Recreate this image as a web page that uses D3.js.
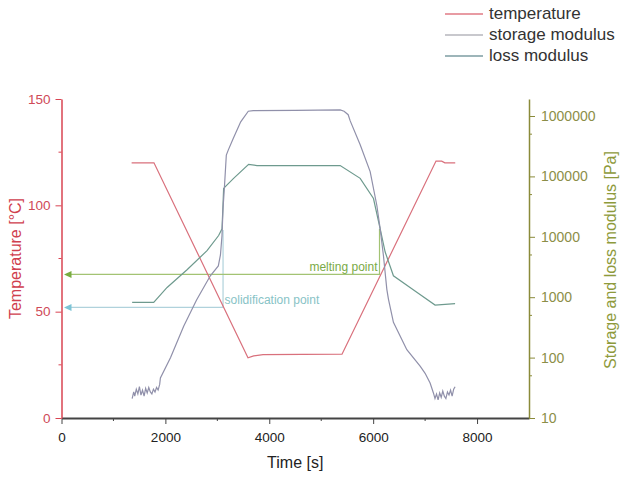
<!DOCTYPE html>
<html>
<head>
<meta charset="utf-8">
<script src="https://cdn.jsdelivr.net/npm/d3@7"></script>
<style>
body { margin: 0; background: #fff; }
svg { font-family: "Liberation Sans", Arial, sans-serif; }
</style>
</head>
<body>
<div id="chart"></div>
<script>
// Temperature, storage and loss modulus versus time
var tempTime  = [1350, 1780, 3590, 3700, 3880, 5400, 7210, 7320, 7380, 7580];
var tempValue = [120, 120, 28.3, 29.2, 29.8, 30, 120.8, 120.8, 120, 120];

var storageTime = [1360, 1390, 1410, 1440, 1470, 1500, 1530, 1560, 1590, 1620, 1650, 1680, 1710, 1740, 1770, 1800, 1830, 1860, 1890,
  1904, 2100, 2352, 2600, 2865, 3019, 3060, 3090, 3110, 3135, 3173, 3212, 3308, 3450, 3596, 3692, 4500, 5365,
  5440, 5519, 5558, 5750, 5942, 6071, 6135, 6198, 6263, 6294, 6390, 6648, 6904, 7000, 7096, 7160,
  7190, 7220, 7250, 7280, 7310, 7340, 7370, 7400, 7430, 7460, 7490, 7520, 7550, 7577];
var storageValue = [21, 27, 23, 30, 25, 33, 24, 29, 23, 31, 26, 32, 27, 25, 30, 27, 32, 29, 36,
  46, 100, 330, 900, 2265, 3290, 5000, 10500, 30000, 63000, 226000, 275000, 427000, 800000, 1200000, 1230000, 1240000, 1260000,
  1200000, 1050000, 830000, 333000, 120000, 33000, 13500, 4860, 1350, 930, 383, 135, 72, 55, 38, 26,
  21, 25, 20, 26, 22, 28, 23, 21, 27, 24, 29, 23, 30, 33];

var lossTime  = [1360, 1775, 2033, 2417, 2802, 3025, 3090, 3110, 3121, 3154, 3313, 3602, 3763, 5365,
  5750, 6006, 6135, 6231, 6390, 6840, 7192, 7577];
var lossValue = [820, 820, 1450, 2850, 5900, 10500, 13600, 35000, 63000, 67600, 92800, 158000, 151000, 151000,
  92800, 43000, 13500, 5600, 2260, 1210, 740, 785];

var seriesNames  = ['temperature', 'storage modulus', 'loss modulus'];
var seriesColors = ['#d9707c', '#9090aa', '#6e9a8e'];
var legendColors = ['#e07a84', '#b6b6bc', '#7d9ca2'];

var markLabel   = ['solidification point', 'melting point'];
var markTime    = [3110, 6122];
var markTemp    = [52, 67.5];
var markModulus = [13000, 13500];
var markLine    = ['#b0d2dc', '#a3c373'];
var markArrow   = ['#7cc4d6', '#78ac40'];
var markText    = ['#88c3c6', '#7aaa46'];

var timeTicks = [0, 2000, 4000, 6000, 8000];
var timeMinor = [1000, 3000, 5000, 7000];
var tempTicks = [0, 50, 100, 150];
var tempMinor = [25, 75, 125];
var modTicks  = [10, 100, 1000, 10000, 100000, 1000000];
var modMinor  = [50, 500, 5000, 50000, 500000];

var W = 625, H = 488;
var plotLeft = 61.5, plotRight = 529, plotTop = 99, plotBottom = 418;

var svg = d3.select('#chart').append('svg')
  .attr('width', W)
  .attr('height', H);

var x = d3.scaleLinear().domain([0, 9000]).range([plotLeft, plotRight]);
var yT = d3.scaleLinear().domain([0, 150]).range([plotBottom, plotTop]);
var yM0 = d3.scaleLog().domain([10, 1000000]).range([plotBottom, 116]);
var yM = d3.scaleLog().domain([10, yM0.invert(plotTop)]).range([plotBottom, plotTop]);

// minor ticks
svg.append('g').selectAll('line').data(timeMinor).enter().append('line')
  .attr('x1', function(d) { return x(d); }).attr('x2', function(d) { return x(d); })
  .attr('y1', plotBottom).attr('y2', plotBottom + 3)
  .attr('stroke', '#444').attr('stroke-width', 1);
svg.append('g').selectAll('line').data(tempMinor).enter().append('line')
  .attr('x1', plotLeft - 3).attr('x2', plotLeft)
  .attr('y1', function(d) { return yT(d); }).attr('y2', function(d) { return yT(d); })
  .attr('stroke', '#d94452').attr('stroke-width', 1);
svg.append('g').selectAll('line').data(modMinor).enter().append('line')
  .attr('x1', plotRight).attr('x2', plotRight + 3)
  .attr('y1', function(d) { return yM(d); }).attr('y2', function(d) { return yM(d); })
  .attr('stroke', '#8a8a3a').attr('stroke-width', 1);

// axes
var xAxis = svg.append('g')
  .attr('transform', 'translate(0,' + plotBottom + ')')
  .call(d3.axisBottom(x).tickValues(timeTicks).tickFormat(d3.format('d')).tickSize(6).tickPadding(8).tickSizeOuter(0));
xAxis.select('.domain').attr('stroke', '#444').attr('stroke-width', 2);
xAxis.selectAll('.tick line').attr('stroke', '#444');
xAxis.selectAll('text').attr('font-size', 13.5).attr('fill', '#222').attr('font-family', null);

var tAxis = svg.append('g')
  .attr('transform', 'translate(' + plotLeft + ',0)')
  .call(d3.axisLeft(yT).tickValues(tempTicks).tickSize(6).tickPadding(5).tickSizeOuter(0));
tAxis.select('.domain').attr('stroke', '#d94452').attr('stroke-width', 1.5);
tAxis.selectAll('.tick line').attr('stroke', '#d94452');
tAxis.selectAll('text').attr('font-size', 13.5).attr('fill', '#cf4a57').attr('font-family', null);

var mAxis = svg.append('g')
  .attr('transform', 'translate(' + plotRight + ',0)')
  .call(d3.axisRight(yM).tickValues(modTicks).tickFormat(d3.format('d')).tickSize(6).tickPadding(6).tickSizeOuter(0));
mAxis.select('.domain').attr('stroke', '#8a8a3a').attr('stroke-width', 1.5);
mAxis.selectAll('.tick line').attr('stroke', '#8a8a3a');
mAxis.selectAll('text').attr('font-size', 14).attr('fill', '#8c8e48').attr('font-family', null);

// axis titles
svg.append('text')
  .attr('x', (plotLeft + plotRight) / 2)
  .attr('y', 468)
  .attr('text-anchor', 'middle')
  .attr('font-size', 16)
  .attr('fill', '#222')
  .text('Time [s]');

svg.append('text')
  .attr('transform', 'translate(21,' + (plotTop + plotBottom) / 2 + ') rotate(-90)')
  .attr('text-anchor', 'middle')
  .attr('font-size', 16)
  .attr('fill', '#d0404e')
  .text('Temperature [°C]');

svg.append('text')
  .attr('transform', 'translate(616,260) rotate(-90)')
  .attr('text-anchor', 'middle')
  .attr('font-size', 16)
  .attr('fill', '#8e9a3c')
  .text('Storage and loss modulus [Pa]');

// annotations
markLabel.forEach(function(name, i) {
  var yy = yT(markTemp[i]);
  var xx = x(markTime[i]);
  svg.append('path')
    .attr('d', 'M' + xx + ',' + yM(markModulus[i]) + 'L' + xx + ',' + yy + 'L' + (plotLeft + 8) + ',' + yy)
    .attr('fill', 'none')
    .attr('stroke', markLine[i])
    .attr('stroke-width', 1.2);
  svg.append('path')
    .attr('d', 'M' + (plotLeft + 2.5) + ',' + yy + 'L' + (plotLeft + 10) + ',' + (yy - 3.5) + 'L' + (plotLeft + 10) + ',' + (yy + 3.5) + 'Z')
    .attr('fill', markArrow[i]);
});

svg.append('text')
  .attr('x', x(markTime[1]) - 2)
  .attr('y', yT(markTemp[1]) - 3)
  .attr('text-anchor', 'end')
  .attr('font-size', 12)
  .attr('fill', markText[1])
  .text(markLabel[1]);

svg.append('text')
  .attr('x', x(markTime[0]) + 1.5)
  .attr('y', yT(markTemp[0]) - 3)
  .attr('font-size', 12)
  .attr('fill', markText[0])
  .text(markLabel[0]);

// series
var lineT = d3.line()
  .x(function(d, i) { return x(tempTime[i]); })
  .y(function(d) { return yT(d); });
var lineM = function(times) {
  return d3.line()
    .x(function(d, i) { return x(times[i]); })
    .y(function(d) { return yM(d); });
};

svg.append('path')
  .attr('d', lineT(tempValue))
  .attr('fill', 'none')
  .attr('stroke', seriesColors[0])
  .attr('stroke-width', 1.2);

svg.append('path')
  .attr('d', lineM(lossTime)(lossValue))
  .attr('fill', 'none')
  .attr('stroke', seriesColors[2])
  .attr('stroke-width', 1.2);

svg.append('path')
  .attr('d', lineM(storageTime)(storageValue))
  .attr('fill', 'none')
  .attr('stroke', seriesColors[1])
  .attr('stroke-width', 1.2);

// legend
seriesNames.forEach(function(name, i) {
  var ly = 14 + i * 21;
  svg.append('path')
    .attr('d', 'M445,' + ly + 'H483')
    .attr('fill', 'none')
    .attr('stroke', legendColors[i])
    .attr('stroke-width', 1.5);
  svg.append('text')
    .attr('x', 489)
    .attr('y', ly)
    .attr('dy', '0.32em')
    .attr('font-size', 17)
    .attr('fill', '#333')
    .text(name);
});
</script>
</body>
</html>
